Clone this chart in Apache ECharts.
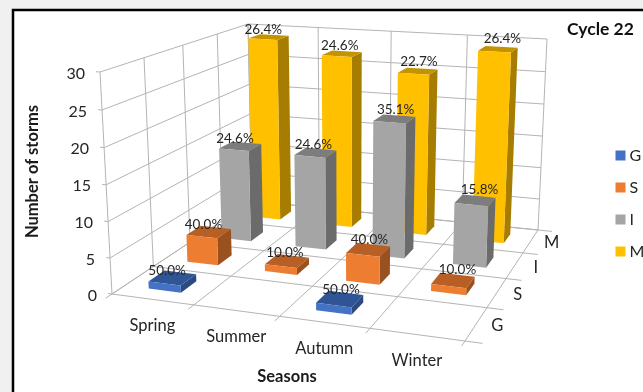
<!DOCTYPE html>
<html>
<head>
<meta charset="utf-8">
<style>html,body{margin:0;padding:0;background:#f0f0f0}#chart{width:643px;height:392px}</style>
<script src="https://cdn.jsdelivr.net/npm/echarts@6/dist/echarts.min.js"></script>
</head>
<body>
<div id="chart"></div>
<script>
// Storm counts per season, one list for each depth row of the 3D column chart.
var seasons = ['Spring', 'Summer', 'Autumn', 'Winter'];
var depthRows = ['G', 'S', 'I', 'M'];
var valueTicks = [0, 5, 10, 15, 20, 25, 30];

var countG = [1, 0, 1, 0];
var countS = [4, 1, 4, 1];
var countI = [14, 14, 20, 9];
var countM = [29, 27, 25, 29];

var shareG = ['50.0%', null, '50.0%', null];
var shareS = ['40.0%', '10.0%', '40.0%', '10.0%'];
var shareI = ['24.6%', '24.6%', '35.1%', '15.8%'];
var shareM = ['26.4%', '24.6%', '22.7%', '26.4%'];

var FONT = 'Lato, "Open Sans", sans-serif';
var GRID_LINE = '#b4b4b4';
var TEXT = '#262626';

// Projected corners of the plot box: [front-left, front-right, back-right, back-left].
var floorQuad = [[112, 294], [465, 341], [538, 230], [252, 201]];
var ceilQuad = [[100, 72], [472, 97], [547, 39], [248, 24]];
// Foreshortening of the vertical axis: equal steps grow slightly towards the top.
var VERTICAL_PERSPECTIVE = 0.032;

function quadMap(q) {
  var x0 = q[0][0], y0 = q[0][1], x1 = q[1][0], y1 = q[1][1];
  var x2 = q[2][0], y2 = q[2][1], x3 = q[3][0], y3 = q[3][1];
  var dx1 = x1 - x2, dx2 = x3 - x2, sx = x0 - x1 + x2 - x3;
  var dy1 = y1 - y2, dy2 = y3 - y2, sy = y0 - y1 + y2 - y3;
  var den = dx1 * dy2 - dx2 * dy1;
  var g = (sx * dy2 - dx2 * sy) / den;
  var h = (dx1 * sy - sx * dy1) / den;
  var a = x1 - x0 + g * x1, b = x3 - x0 + h * x3;
  var d = y1 - y0 + g * y1, e = y3 - y0 + h * y3;
  return function (u, v) {
    var w = g * u + h * v + 1;
    return [(a * u + b * v + x0) / w, (d * u + e * v + y0) / w];
  };
}
var floorAt = quadMap(floorQuad);
var ceilAt = quadMap(ceilQuad);

// u runs along the seasons, v runs into the page, t is the height fraction.
function project(u, v, t) {
  var p = floorAt(u, v), q = ceilAt(u, v);
  return [p[0] + (q[0] - p[0]) * t, p[1] + (q[1] - p[1]) * t];
}

// Reads the hidden cartesian axes and returns the box coordinates of a value.
function toBox(params, api, catIndex, value) {
  var cs = params.coordSys;
  var pt = api.coord([catIndex, value]);
  var raw = 1 - (pt[1] - cs.y) / cs.height;
  var c = VERTICAL_PERSPECTIVE;
  return { u: (pt[0] - cs.x) / cs.width, t: raw * (1 - c) / (1 - c * raw) };
}

function seg(a, b, width) {
  return {
    type: 'line',
    shape: { x1: a[0], y1: a[1], x2: b[0], y2: b[1] },
    style: { stroke: GRID_LINE, lineWidth: width || 1 },
    silent: true
  };
}
function label(text, p, opts) {
  opts = opts || {};
  return {
    type: 'text',
    silent: true,
    style: {
      text: text, x: p[0], y: p[1],
      align: opts.align || 'center', verticalAlign: 'middle',
      font: (opts.weight || 'normal') + ' ' + (opts.size || 14) + 'px ' + FONT,
      fill: opts.fill || TEXT
    }
  };
}

function renderFrame(params, api) {
  var kids = [];
  var i, k;
  for (i = 0; i <= seasons.length; i++) {
    k = i / seasons.length;
    kids.push(seg(project(k, 1, 0), project(k, 1, 1)));
    kids.push(seg(project(k, -0.035, 0), project(k, 1, 0)));
  }
  for (i = 0; i <= depthRows.length; i++) {
    k = i / depthRows.length;
    kids.push(seg(project(0, k, 0), project(0, k, 1)));
    kids.push(seg(project(0, k, 0), project(1.045, k, 0)));
  }
  valueTicks.forEach(function (tick) {
    var t = toBox(params, api, 0, tick).t;
    kids.push(seg(project(-0.012, 0, t), project(0, 0, t)));
    kids.push(seg(project(0, 0, t), project(0, 1, t)));
    kids.push(seg(project(0, 1, t), project(1, 1, t)));
    var p = project(0, 0, t);
    kids.push(label(String(tick), [p[0] - 15, p[1] + 1.5], { align: 'right', size: 16 }));
  });
  seasons.forEach(function (name, idx) {
    var p = project(toBox(params, api, idx, 0).u, 0, 0);
    kids.push(label(name, [p[0], p[1] + 26.5], { size: 16.5 }));
  });
  depthRows.forEach(function (name, idx) {
    var p = project(1, (idx + 0.5) / depthRows.length, 0);
    kids.push(label(name, [p[0] + 21, p[1] + 2], { size: 16.5 }));
  });
  return { type: 'group', children: kids };
}

// One column: front, top and right faces plus the share label above it.
function columnRenderer(rowIndex, shares, faces) {
  return function (params, api) {
    var idx = api.value(0), val = api.value(1);
    if (!val) { return { type: 'group', children: [] }; }
    var box = toBox(params, api, idx, val);
    var halfU = api.size([1, 0])[0] / params.coordSys.width * 0.2;
    var cell = 1 / depthRows.length;
    var vMid = (rowIndex + 0.5) * cell, halfV = cell * 0.2;
    var u0 = box.u - halfU, u1 = box.u + halfU, v0 = vMid - halfV, v1 = vMid + halfV, t = box.t;
    var a = project(u0, v0, 0), b = project(u1, v0, 0), c = project(u1, v1, 0);
    var A = project(u0, v0, t), B = project(u1, v0, t), C = project(u1, v1, t), D = project(u0, v1, t);
    var topMid = project(box.u, vMid, t);
    var face = function (pts, fill) {
      return { type: 'polygon', shape: { points: pts }, style: { fill: fill }, silent: true };
    };
    return {
      type: 'group',
      children: [
        face([b, c, C, B], faces.side),
        face([A, B, C, D], faces.top),
        face([a, b, B, A], faces.front),
        label(shares[idx], [topMid[0] - 7 + 13 * box.u, topMid[1] - 6.5 - 5 * box.u], { size: 13.5 })
      ]
    };
  };
}

function columnSeries(name, rowIndex, values, shares, faces) {
  return {
    name: name,
    type: 'custom',
    coordinateSystem: 'cartesian2d',
    z: 10 + (depthRows.length - rowIndex),
    itemStyle: { color: faces.front },
    renderItem: columnRenderer(rowIndex, shares, faces),
    encode: { x: 0, y: 1 },
    data: values.map(function (v, i) { return [i, v]; })
  };
}

var chart = echarts.init(document.getElementById('chart'), null, { renderer: 'canvas' });
chart.setOption({
  animation: false,
  backgroundColor: '#f0f0f0',
  grid: { left: 100, top: 60, width: 200, height: 200, show: false },
  xAxis: { type: 'category', data: seasons, show: false },
  yAxis: { type: 'value', min: 0, max: 30, interval: 5, show: false },
  title: [
    { text: 'Cycle 22', left: 567, top: 20, padding: 0,
      textStyle: { fontFamily: FONT, fontSize: 17.5, fontWeight: 'bold', color: '#111' } }
  ],
  legend: {
    orient: 'vertical', left: 615.5, top: 147.5,
    data: depthRows.map(function (n) { return { name: n, icon: 'rect' }; }),
    itemWidth: 10, itemHeight: 10, itemGap: 16, padding: 0, selectedMode: false,
    textStyle: { fontFamily: FONT, fontSize: 16, lineHeight: 14, color: TEXT, padding: [0, 0, 0, -1] }
  },
  graphic: [
    { type: 'rect', z: -5, shape: { x: 13, y: 10, width: 720, height: 480 },
      style: { fill: '#ffffff', stroke: '#000000', lineWidth: 2.5 } },
    { type: 'text', z: 50, style: { text: 'Seasons', x: 287, y: 376.5, align: 'center', verticalAlign: 'middle',
      font: 'bold 16.5px ' + FONT, fill: '#1a1a1a' } },
    { type: 'text', z: 50, x: 33, y: 171.5, rotation: Math.PI / 2,
      style: { text: 'Number of storms', x: 0, y: 0, align: 'center', verticalAlign: 'middle',
      font: 'bold 16.5px ' + FONT, fill: '#1a1a1a' } }
  ],
  series: [
    { name: 'frame', type: 'custom', coordinateSystem: 'cartesian2d', z: 2, silent: true,
      renderItem: renderFrame, data: [[0, 0]], encode: { x: 0, y: 1 } },
    columnSeries('M', 3, countM, shareM, { front: '#FFC000', top: '#C49400', side: '#A67D00' }),
    columnSeries('I', 2, countI, shareI, { front: '#A5A5A5', top: '#7D7D7D', side: '#6B6B6B' }),
    columnSeries('S', 1, countS, shareS, { front: '#ED7D31', top: '#B85F25', side: '#9A5120' }),
    columnSeries('G', 0, countG, shareG, { front: '#4472C4', top: '#2F5597', side: '#2C4A80' })
  ]
});
</script>
</body>
</html>
